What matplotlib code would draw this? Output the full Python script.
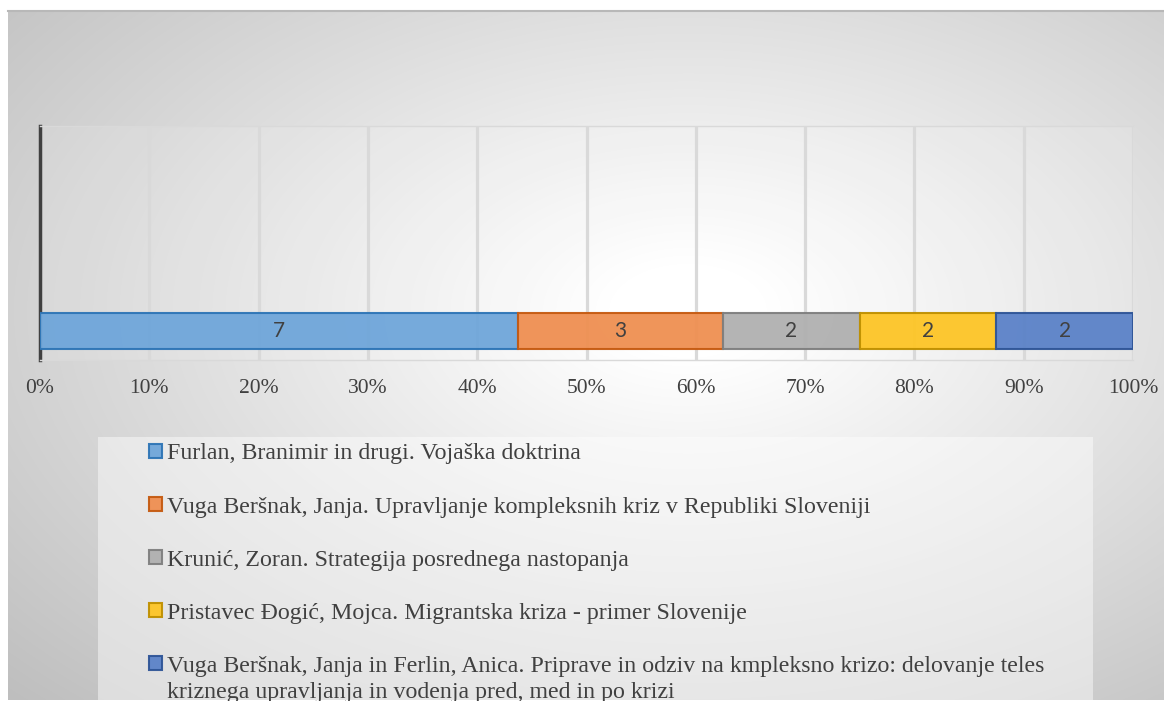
import numpy as np
import matplotlib
matplotlib.use("Agg")
import matplotlib.pyplot as plt
from matplotlib.patches import Rectangle

# podatki
labels = [
    "Furlan, Branimir in drugi. Vojaška doktrina",
    "Vuga Beršnak, Janja. Upravljanje kompleksnih kriz v Republiki Sloveniji",
    "Krunić, Zoran. Strategija posrednega nastopanja",
    "Pristavec Đogić, Mojca. Migrantska kriza - primer Slovenije",
    "Vuga Beršnak, Janja in Ferlin, Anica. Priprave in odziv na kmpleksno krizo: delovanje teles",
]
label_cont = "kriznega upravljanja in vodenja pred, med in po krizi"
counts = [7, 3, 2, 2, 2]
xticks = [0, 10, 20, 30, 40, 50, 60, 70, 80, 90, 100]

fills = ["#6fa6da", "#ef8f51", "#b0b0b0", "#fdc526", "#5b82c8"]
edges = ["#2e75b6", "#c55a11", "#7f7f7f", "#bf9000", "#2f5597"]

W, H = 1164, 701
fig = plt.figure(figsize=(W / 100, H / 100), dpi=100)

# ozadje z radialnim prelivom
bg = fig.add_axes([8 / W, 1 / H, (W - 8) / W, (H - 11 - 1) / H])
bg.set_axis_off()
yy, xx = np.mgrid[0:690, 0:1156]
cx, cy = 680, 300
dx = (xx - cx) / 700.0
dy = (yy - cy) / 420.0
d = np.sqrt(dx ** 2 + dy ** 2) / np.sqrt(2)
val = 1 - 0.27 * np.clip((d - 0.08) / 0.92, 0, 1)
bg.imshow(np.dstack([val, val, val]), aspect="auto", extent=(0, 1, 0, 1))
bg.set_xlim(0, 1)
bg.set_ylim(0, 1)
bg.plot([0, 1], [1, 1], color="#b8b8b8", lw=1.5, transform=bg.transAxes, clip_on=False)

# okvir legende
fig.patches.append(Rectangle((98 / W, 0), (1093 - 98) / W, (H - 437) / H,
                             transform=fig.transFigure, facecolor="white",
                             alpha=0.45, edgecolor="none", zorder=1))

ax = fig.add_axes([40 / W, (H - 360) / H, (1133 - 40) / W, (360 - 126) / H])
ax.patch.set_facecolor("white")
ax.patch.set_alpha(0.12)

total = sum(counts)
left = 0
handles = []
for c, lab, fc, ec in zip(counts, labels, fills, edges):
    w = c / total * 100
    b = ax.barh(0, w, left=left, height=1, color=fc, edgecolor=ec,
                linewidth=1.5, label=lab, zorder=3, alpha=0.95)
    ax.text(left + w / 2, 0, str(c), ha="center", va="center",
            fontsize=15, color="#404040", family="Lato", zorder=4)
    handles.append(b)
    left += w

ax.set_xlim(0, 100)
ax.set_ylim(-0.5 - 11 / 36, 0.5 + 187 / 36)
ax.set_yticks([])
ax.set_xticks(xticks)
ax.set_xticklabels([f"{t}%" for t in xticks], family="Liberation Serif",
                   fontsize=15.5, color="#404040")
ax.tick_params(axis="x", length=0, pad=14)
ax.grid(axis="x", color="#d9d9d9", lw=2.3, zorder=0)
ax.set_axisbelow(True)
for s in ["top", "bottom", "right"]:
    ax.spines[s].set_color("#d9d9d9")
    ax.spines[s].set_linewidth(1)
ax.spines["right"].set_visible(False)
ax.spines["left"].set_color("#404040")
ax.spines["left"].set_linewidth(2.5)

leg_fs = 17.2
leg = fig.legend(handles=handles, labels=labels, loc="upper left",
                 bbox_to_anchor=(127 / W, (H - 422) / H), frameon=False,
                 prop={"family": "Liberation Serif", "size": leg_fs},
                 labelcolor="#404040", handlelength=0.55, handleheight=0.55,
                 handletextpad=0.22, labelspacing=1.34)

# druga vrstica zadnjega vnosa
fig.canvas.draw()
bb = leg.get_texts()[-1].get_window_extent()
fig.text(bb.x0 / W, (bb.y0 - 26) / H, label_cont, family="Liberation Serif",
         fontsize=leg_fs, color="#404040", ha="left", va="bottom")

fig.savefig("out.png", dpi=100)
